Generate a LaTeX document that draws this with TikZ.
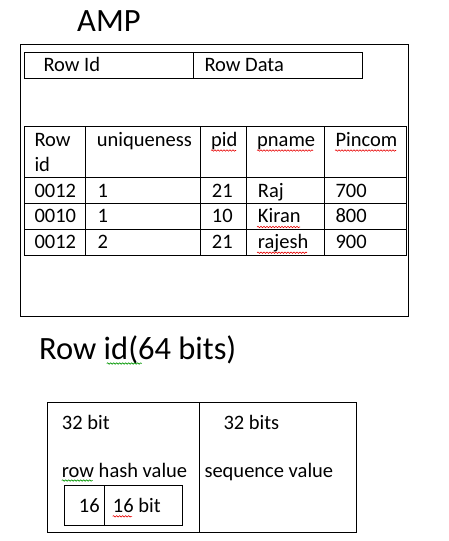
\documentclass[tikz,border=0pt]{standalone}
\usepackage{fontspec}
\setmainfont{Carlito}
\usetikzlibrary{decorations.pathmorphing}
\definecolor{spellred}{RGB}{230,0,0}
\definecolor{spellgreen}{RGB}{0,150,0}
\begin{document}
\begin{tikzpicture}[x=1pt,y=-1pt,
  box/.style={draw=black,line width=0.9pt},
  txt/.style={anchor=base west,inner sep=0pt,font=\fontsize{20.5}{24}\selectfont},
  big/.style={anchor=base west,inner sep=0pt,font=\fontsize{32.5}{38}\selectfont},
  squig/.style={line width=0.6pt,decorate,decoration={snake,segment length=3pt,amplitude=0.7pt}},
  red squig/.style={squig,draw=spellred},
  green squig/.style={squig,draw=spellgreen}]
\useasboundingbox (0,0) rectangle (448,541);
% AMP title
\node[big] (amp) at (77,31) {AMP};
% outer AMP box
\draw[box] (20.7,44) rectangle (408,316);
% Row Id / Row Data box
\draw[box] (24.5,52) rectangle (362,78);
\draw[box] (193,52) -- (193,78);
\node[txt] (rowid) at (43.3,71.7) {Row Id};
\node[txt] (rowdata) at (204.3,71.7) {Row Data};
% table
\draw[box] (24.5,126) rectangle (406.7,255);
\foreach \y in {177,203,229} \draw[box] (24.5,\y) -- (406.7,\y);
\foreach \x in {85.3,200.3,246.3,324.3} \draw[box] (\x,126) -- (\x,255);
\node[txt] (h1a) at (34.3,146) {Row};
\node[txt] (h1b) at (34.3,171) {id};
\node[txt] (h2) at (96.7,146) {uniqueness};
\node[txt] (h3) at (211,146) {pid};
\node[txt] (h4) at (257,146) {pname};
\node[txt] (h5) at (335.3,146) {Pincom};
\node[txt] (r1c1) at (34.3,197) {0012};
\node[txt] (r1c2) at (97.3,197) {1};
\node[txt] (r1c3) at (211.7,197) {21};
\node[txt] (r1c4) at (257.7,197) {Raj};
\node[txt] (r1c5) at (335.3,197) {700};
\node[txt] (r2c1) at (34.3,222.7) {0010};
\node[txt] (r2c2) at (97.3,222.7) {1};
\node[txt] (r2c3) at (211.7,222.7) {10};
\node[txt] (r2c4) at (257.7,222.7) {Kiran};
\node[txt] (r2c5) at (335.3,222.7) {800};
\node[txt] (r3c1) at (34.3,248.3) {0012};
\node[txt] (r3c2) at (97.3,248.3) {2};
\node[txt] (r3c3) at (211.7,248.3) {21};
\node[txt] (r3c4) at (257.7,248.3) {rajesh};
\node[txt] (r3c5) at (335.3,248.3) {900};
\draw[red squig] (211,150.5) -- (236,150.5);
\draw[red squig] (257,150.5) -- (313,150.5);
\draw[red squig] (335,150.5) -- (396,150.5);
\draw[red squig] (257,227) -- (300,227);
\draw[red squig] (257,252.7) -- (307,252.7);
% Row id (64 bits)
\node[big] (rid) at (39,359) {Row id(64 bits)};
\draw[green squig] (106.7,363.5) -- (141.7,363.5);
% bottom box
\draw[box] (47.7,402.7) rectangle (356.3,532);
\draw[box] (199.3,402.7) -- (199.3,532);
\draw[box] (64.3,485.3) rectangle (182.3,525);
\draw[box] (104.3,485.3) -- (104.3,525);
\node[txt] (b32a) at (61.7,429) {32 bit};
\node[txt] (b32b) at (223.3,429) {32 bits};
\node[txt] (bhash) at (61.7,477.3) {row hash value};
\node[txt] (bseq) at (204.3,477.3) {sequence value};
\node[txt] (b16) at (78.7,512.3) {16};
\node[txt] (b16b) at (112.7,512.3) {16 bit};
\draw[green squig] (61.7,480.5) -- (92.7,480.5);
\draw[red squig] (112.7,516.3) -- (132,516.3);
\end{tikzpicture}
\end{document}
